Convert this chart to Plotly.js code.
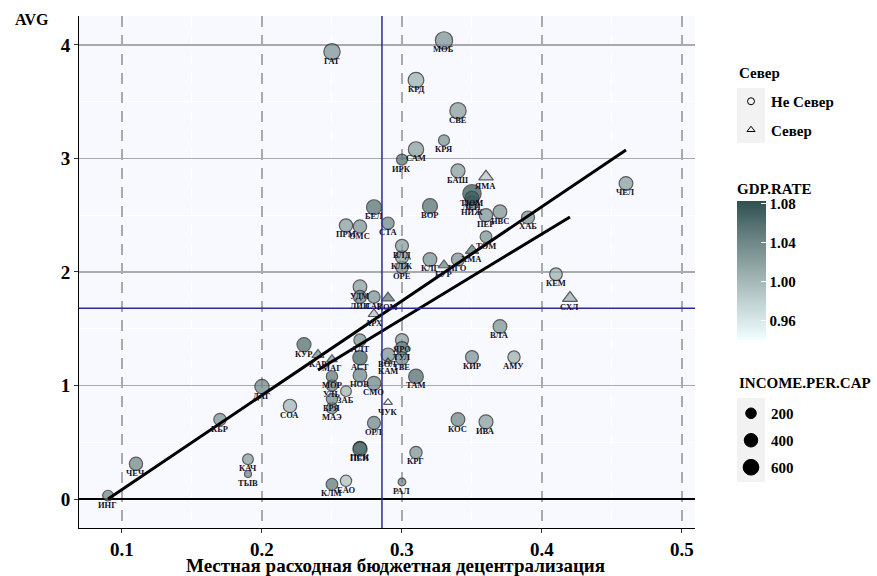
<!DOCTYPE html>
<html>
<head>
<meta charset="utf-8">
<script src="https://cdn.plot.ly/plotly-3.0.1.min.js"></script>
<style>html,body{margin:0;padding:0;background:#fff;}#chart{width:877px;height:576px;}</style>
</head>
<body>
<div id="chart"></div>
<script>
// ---- DATA ----
const regions = ['ИНГ','ЧЕЧ','КБР','ДАГ','СОА','КАЧ','ТЫВ','КЛМ','ЕАО','РАЛ','КРГ','ПСК','ПЕН','ОРЛ','ЧУК','МАЭ','БРЯ','ЗАБ','УЛЬ','МОР','СМО','НОВ','АСТ','АЛТ','КУР','КАР','МАГ','ЯРО','ТУЛ','ВОЛ','ТВЕ','КАМ','ТАМ','КОС','ИВА','КИР','АМУ','ВЛА','АРХ','УДМ','ЛИП','САР','КОМ','КЕМ','СХЛ','ОРЕ','КЛЖ','ВЛД','КЛГ','БУР','НГО','ХМА','ТОМ','ПРМ','ОМС','СТА','ХАБ','ПЕР','НВС','БЕЛ','ВОР','НИЖ','ЛЕН','ТЮМ','ЧЕЛ','ЯМА','БАШ','ИРК','САМ','КРЯ','СВЕ','КРД','МОБ','ГАТ'];
const decentralization = [0.09,0.11,0.17,0.20,0.22,0.19,0.19,0.25,0.26,0.30,0.31,0.27,0.27,0.28,0.29,0.25,0.25,0.26,0.25,0.25,0.28,0.27,0.27,0.27,0.23,0.24,0.25,0.30,0.30,0.29,0.30,0.29,0.31,0.34,0.36,0.35,0.38,0.37,0.28,0.27,0.27,0.28,0.29,0.41,0.42,0.30,0.30,0.30,0.32,0.33,0.34,0.35,0.36,0.26,0.27,0.29,0.39,0.36,0.37,0.28,0.32,0.35,0.35,0.35,0.46,0.36,0.34,0.30,0.31,0.33,0.34,0.31,0.33,0.25];
const avg = [0.03,0.31,0.70,0.99,0.82,0.35,0.22,0.13,0.16,0.15,0.41,0.45,0.44,0.67,0.85,0.80,0.88,0.95,1.00,1.08,1.02,1.09,1.245,1.40,1.36,1.27,1.23,1.40,1.33,1.27,1.24,1.21,1.08,0.70,0.68,1.25,1.25,1.52,1.63,1.87,1.78,1.78,1.77,1.98,1.77,2.04,2.13,2.23,2.11,2.06,2.11,2.19,2.31,2.41,2.40,2.43,2.48,2.50,2.53,2.57,2.58,2.61,2.65,2.69,2.78,2.84,2.89,2.99,3.08,3.16,3.42,3.69,4.04,3.94];
const gdpRate = [1.045,1.045,1.035,1.045,1.005,1.025,1.045,1.055,0.995,1.045,1.035,1.055,1.065,1.045,0.94,1.045,1.045,1.005,1.045,1.055,1.045,1.045,1.072,1.035,1.065,1.035,1.035,1.025,1.045,1.035,1.045,1.025,1.065,1.045,1.025,1.035,1.01,1.035,0.99,1.025,1.045,1.035,1.055,1.01,1.01,1.035,1.025,1.025,1.035,1.045,1.035,1.055,1.035,1.025,1.035,1.045,1.035,1.035,1.035,1.062,1.062,1.045,1.055,1.083,1.025,0.99,1.025,1.062,1.025,1.035,1.025,1.01,1.035,1.035];
const incomePerCap = [207,384,310,467,384,207,49,269,243,70,310,361,467,361,74,243,243,207,243,243,416,416,467,310,441,204,133,361,361,416,361,55,502,416,441,361,310,416,177,416,361,310,256,339,361,310,361,361,416,190,361,256,269,384,384,310,361,384,416,529,529,416,441,876,416,340,441,225,557,225,655,595,762,655];
const north = [0,0,0,0,0,0,0,0,0,0,0,0,0,0,1,0,0,0,0,0,0,0,0,0,0,1,1,0,0,0,0,1,0,0,0,0,0,0,1,0,0,0,1,0,1,0,0,0,0,1,0,1,0,0,0,0,0,0,0,0,0,0,0,0,0,1,0,0,0,0,0,0,0,0];
const northLabels = ['Не Север','Север'];
const fitAllX = [0.09, 0.46];
const fitAllY = [0.0, 3.075];
const fitNorthX = [0.24, 0.42];
const fitNorthY = [1.137, 2.485];
const meanX = 0.2857;
const meanY = 1.68;
const incomeLegend = [200, 400, 600];
const gdpTicks = [0.96, 1.00, 1.04, 1.08];
const xTicks = [0.1, 0.2, 0.3, 0.4, 0.5];
const yTicks = [0, 1, 2, 3, 4];

// ---- LAYOUT HELPERS ----
const L = 79, R = 695, T = 16, B = 528;
const px2x = p => (p - L) / (R - L);
const px2y = p => (B - p) / (B - T);
const SERIF = 'Liberation Serif, Times New Roman, serif';
const sizeOf = v => 3.5 + 0.5 * Math.sqrt(v);
const colorscale = [[0, '#F0FFFF'], [0.25, '#C4D6D5'], [0.5, '#96ABAA'], [0.75, '#668080'], [1, '#2F4F4F']];

const traces = [];
traces.push({
  type: 'scatter', mode: 'markers',
  x: decentralization, y: avg, text: regions,
  showlegend: false, hoverinfo: 'text',
  marker: {
    symbol: north.map(n => n ? 'triangle-up' : 'circle'),
    size: incomePerCap.map(sizeOf),
    color: gdpRate, colorscale: colorscale, cmin: 0.9405, cmax: 1.083,
    line: {color: '#1a1a1a', width: 1.2},
    showscale: true,
    colorbar: {
      title: {text: '<b>GDP.RATE</b>', side: 'top', font: {family: SERIF, size: 15, color: '#000'}},
      x: px2x(737), xanchor: 'left', xref: 'paper',
      y: px2y(180), yanchor: 'top', yref: 'paper',
      len: 160, lenmode: 'pixels', thickness: 29, thicknessmode: 'pixels',
      xpad: 0, ypad: 0, outlinewidth: 0,
      tickvals: gdpTicks, ticktext: gdpTicks.map(v => v.toFixed(2)),
      ticks: 'inside', ticklen: 5, tickcolor: '#FFFFFF', tickwidth: 1,
      tickfont: {family: SERIF, size: 15, color: '#000', weight: 'bold'}
    }
  }
});
traces.push({type: 'scatter', mode: 'lines', x: fitAllX, y: fitAllY, showlegend: false, hoverinfo: 'skip', line: {color: '#000', width: 3}});
traces.push({type: 'scatter', mode: 'lines', x: fitNorthX, y: fitNorthY, showlegend: false, hoverinfo: 'skip', line: {color: '#000', width: 3}});
northLabels.forEach((lab, i) => {
  traces.push({type: 'scatter', mode: 'markers', x: [null], y: [null], name: lab, legend: 'legend', legendgroup: 'n' + i,
    marker: {symbol: i ? 'triangle-up-open' : 'circle-open', size: 7, color: '#000', line: {width: 1, color: '#000'}}});
});
incomeLegend.forEach(v => {
  traces.push({type: 'scatter', mode: 'markers', x: [null], y: [null], name: String(v), legend: 'legend2', legendgroup: 'i' + v,
    marker: {symbol: 'circle', size: sizeOf(v), color: '#000', line: {width: 1, color: '#000'}}});
});

const annotations = regions.map((r, i) => ({
  x: decentralization[i], y: avg[i], xref: 'x', yref: 'y', text: r, showarrow: false,
  yshift: -9, xanchor: 'center', yanchor: 'middle',
  font: {family: SERIF, size: 8.5, color: '#111126', weight: 'bold'}
}));
annotations.push({x: px2x(13), y: px2y(19), xref: 'paper', yref: 'paper', xanchor: 'left', yanchor: 'middle',
  text: '<b>AVG</b>', showarrow: false, font: {family: SERIF, size: 16, color: '#000'}});
annotations.push({x: px2x(395), y: px2y(565), xref: 'paper', yref: 'paper', xanchor: 'center', yanchor: 'middle',
  text: '<b>Местная расходная бюджетная децентрализация</b>', showarrow: false, font: {family: SERIF, size: 19, color: '#000'}});
annotations.push({x: px2x(737), y: px2y(73), xref: 'paper', yref: 'paper', xanchor: 'left', yanchor: 'middle',
  text: '<b>Север</b>', showarrow: false, font: {family: SERIF, size: 15, color: '#000'}});
annotations.push({x: px2x(737), y: px2y(383), xref: 'paper', yref: 'paper', xanchor: 'left', yanchor: 'middle',
  text: '<b>INCOME.PER.CAP</b>', showarrow: false, font: {family: SERIF, size: 15, color: '#000'}});

const shapes = [
  {type: 'line', xref: 'x', yref: 'paper', x0: meanX, x1: meanX, y0: 0, y1: 1, layer: 'above', line: {color: '#2A2A9C', width: 1.5}},
  {type: 'line', xref: 'paper', yref: 'y', x0: 0, x1: 1, y0: meanY, y1: meanY, layer: 'above', line: {color: '#2A2A9C', width: 1.5}},
  {type: 'rect', xref: 'paper', yref: 'paper', x0: px2x(737), x1: px2x(765), y0: px2y(143), y1: px2y(88), fillcolor: '#F2F2F2', line: {width: 0}, layer: 'below'},
  {type: 'rect', xref: 'paper', yref: 'paper', x0: px2x(737), x1: px2x(765), y0: px2y(482), y1: px2y(398), fillcolor: '#F2F2F2', line: {width: 0}, layer: 'below'}
];

const layout = {
  width: 877, height: 576,
  margin: {l: L, r: 877 - R, t: T, b: 576 - B, pad: 0, autoexpand: false},
  paper_bgcolor: '#FFFFFF', plot_bgcolor: '#F8F8FF',
  font: {family: SERIF, color: '#000'},
  showlegend: true,
  xaxis: {
    range: [0.0693, 0.5093], tickvals: xTicks, ticktext: xTicks.map(String),
    showgrid: true, gridcolor: '#AAAAAA', gridwidth: 1.4, griddash: '11px,8px',
    minor: {dtick: 0.05, tick0: 0.05, showgrid: true, gridcolor: '#FFFFFF', gridwidth: 1, ticks: ''},
    zeroline: false, showline: true, linecolor: '#000', linewidth: 1,
    ticks: 'outside', ticklen: 4, tickcolor: '#333',
    tickfont: {family: SERIF, size: 19, color: '#000', weight: 'bold'}
  },
  yaxis: {
    range: [-0.2555, 4.255], tickvals: yTicks, ticktext: yTicks.map(String),
    showgrid: true, gridcolor: '#AAAAAA', gridwidth: 1.5,
    minor: {dtick: 0.5, tick0: 0.5, showgrid: true, gridcolor: '#FFFFFF', gridwidth: 1, ticks: ''},
    zeroline: true, zerolinecolor: '#000', zerolinewidth: 1.8,
    showline: true, linecolor: '#000', linewidth: 1,
    ticks: 'outside', ticklen: 4, tickcolor: '#333',
    tickfont: {family: SERIF, size: 19, color: '#000', weight: 'bold'}
  },
  legend: {
    x: px2x(731), y: px2y(85), xanchor: 'left', yanchor: 'top', xref: 'paper', yref: 'paper',
    bgcolor: 'rgba(0,0,0,0)', borderwidth: 0, itemsizing: 'trace', tracegroupgap: 6,
    font: {family: SERIF, size: 15, color: '#000', weight: 'bold'}
  },
  legend2: {
    x: px2x(731), y: px2y(397), xanchor: 'left', yanchor: 'top', xref: 'paper', yref: 'paper',
    bgcolor: 'rgba(0,0,0,0)', borderwidth: 0, itemsizing: 'trace', tracegroupgap: 4.5,
    font: {family: SERIF, size: 15, color: '#000', weight: 'bold'}
  },
  annotations: annotations,
  shapes: shapes
};

Plotly.newPlot('chart', traces, layout, {displayModeBar: false, staticPlot: true});
</script>
</body>
</html>
